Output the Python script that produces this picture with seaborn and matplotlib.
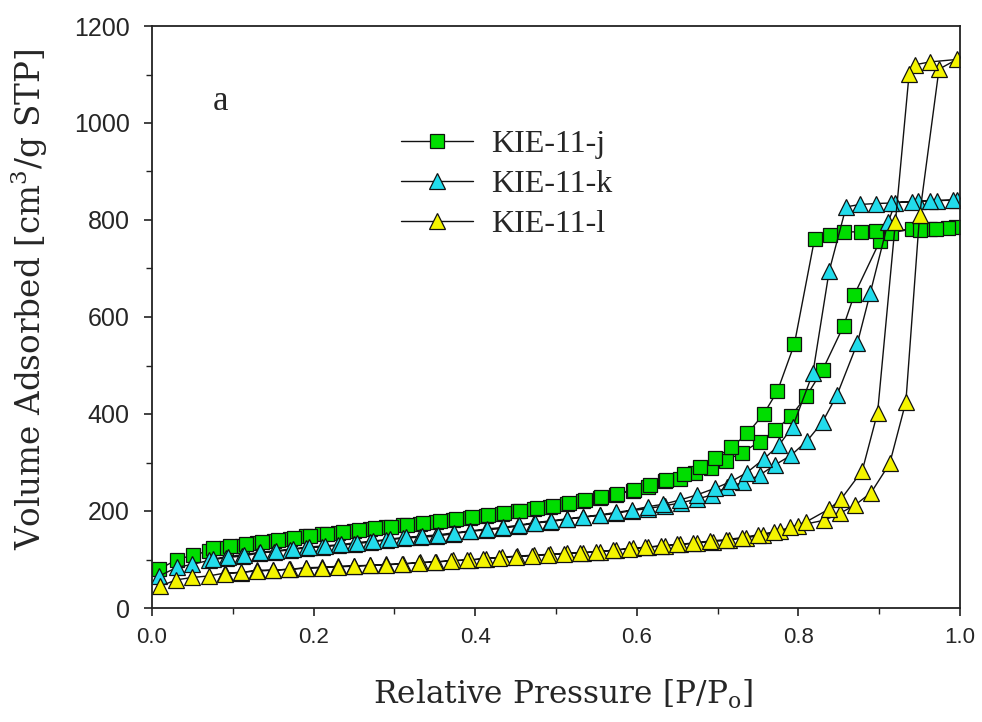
import numpy as np
import pandas as pd
import seaborn as sns
import matplotlib
matplotlib.use("Agg")
import matplotlib.pyplot as plt
from matplotlib.ticker import MultipleLocator

# ---------------- data ----------------
series_names = ["KIE-11-j", "KIE-11-k", "KIE-11-l"]

# KIE-11-j : adsorption then desorption branch
j_ads_x = [0.009, 0.031, 0.051, 0.071, 0.092, 0.111, 0.130, 0.151, 0.171, 0.191, 0.210, 0.230, 0.250,
           0.270, 0.290, 0.311, 0.332, 0.352, 0.372, 0.394, 0.413, 0.433, 0.453, 0.473, 0.493, 0.513,
           0.533, 0.554, 0.574, 0.595, 0.614, 0.635, 0.653, 0.672, 0.692, 0.710, 0.730, 0.752, 0.771,
           0.791, 0.810, 0.830, 0.856, 0.869, 0.901, 0.915, 0.940, 0.963, 0.995]
j_ads_y = [80, 100, 109, 118, 124, 128, 135, 138, 142, 148, 152, 155, 159,
           162, 166, 171, 173, 178, 181, 186, 190, 193, 199, 205, 209, 214,
           221, 227, 234, 242, 250, 261, 267, 278, 289, 304, 320, 343, 366,
           396, 437, 491, 582, 645, 757, 774, 781, 781, 785]
j_des_x = [0.985, 0.970, 0.950, 0.896, 0.877, 0.856, 0.839, 0.820, 0.795, 0.774, 0.757, 0.737, 0.717,
           0.697, 0.678, 0.658, 0.636, 0.616, 0.596, 0.576, 0.556, 0.536, 0.516, 0.496, 0.476, 0.456,
           0.436, 0.416, 0.396, 0.376, 0.356, 0.336, 0.316, 0.296, 0.276, 0.256, 0.236, 0.216, 0.196,
           0.176, 0.156, 0.136, 0.116, 0.096, 0.076]
j_des_y = [783, 781, 780, 778, 776, 775, 770, 761, 544, 447, 400, 360, 331,
           309, 291, 276, 264, 254, 244, 236, 229, 222, 216, 211, 206, 201,
           195, 191, 187, 183, 179, 175, 172, 168, 164, 160, 157, 153, 149,
           145, 141, 137, 131, 128, 123]

# KIE-11-k
k_ads_x = [0.009, 0.031, 0.050, 0.070, 0.092, 0.112, 0.132, 0.151, 0.171, 0.191, 0.211, 0.230, 0.250,
           0.270, 0.290, 0.311, 0.332, 0.352, 0.372, 0.394, 0.413, 0.433, 0.453, 0.473, 0.493, 0.513,
           0.533, 0.554, 0.574, 0.594, 0.614, 0.635, 0.655, 0.675, 0.693, 0.712, 0.732, 0.752, 0.771,
           0.791, 0.811, 0.830, 0.848, 0.873, 0.889, 0.911, 0.920, 0.948, 0.972, 0.996]
k_ads_y = [66, 84, 90, 98, 104, 107, 113, 116, 120, 124, 126, 129, 132,
           136, 140, 144, 146, 148, 153, 158, 161, 164, 169, 175, 178, 183,
           187, 191, 195, 201, 205, 211, 217, 225, 233, 250, 259, 274, 295,
           315, 345, 384, 440, 546, 650, 795, 836, 839, 840, 841]
k_des_x = [0.991, 0.963, 0.940, 0.915, 0.896, 0.876, 0.859, 0.838, 0.818, 0.793, 0.776, 0.757, 0.736,
           0.717, 0.697, 0.674, 0.654, 0.633, 0.614, 0.594, 0.574, 0.554, 0.534, 0.514, 0.494, 0.474,
           0.454, 0.434, 0.414, 0.394, 0.374, 0.354, 0.334, 0.314, 0.294, 0.274, 0.254, 0.234, 0.214,
           0.194, 0.174, 0.154, 0.134, 0.114, 0.094, 0.075]
k_des_y = [841, 840, 838, 835, 834, 832, 827, 694, 485, 374, 336, 307, 279,
           261, 247, 233, 223, 214, 209, 202, 197, 192, 188, 184, 180, 176,
           171, 166, 163, 159, 155, 151, 148, 146, 142, 138, 135, 131, 128,
           126, 122, 118, 115, 110, 106, 101]

# KIE-11-l
l_ads_x = [0.010, 0.030, 0.050, 0.070, 0.090, 0.110, 0.130, 0.150, 0.171, 0.190, 0.210, 0.230, 0.250,
           0.270, 0.290, 0.311, 0.332, 0.352, 0.372, 0.393, 0.413, 0.433, 0.452, 0.473, 0.493, 0.513,
           0.533, 0.554, 0.574, 0.595, 0.614, 0.635, 0.653, 0.674, 0.694, 0.714, 0.735, 0.756, 0.777,
           0.800, 0.832, 0.851, 0.870, 0.890, 0.913, 0.933, 0.950, 0.974, 0.996]
l_ads_y = [45, 58, 63, 66, 72, 73, 78, 78, 80, 83, 84, 86, 87,
           88, 90, 91, 94, 95, 98, 99, 102, 105, 107, 109, 111, 113,
           114, 116, 120, 123, 126, 128, 131, 134, 137, 140, 145, 150, 158,
           170, 181, 195, 212, 238, 298, 425, 810, 1111, 1131]
l_des_x = [0.963, 0.944, 0.937, 0.920, 0.898, 0.879, 0.853, 0.838, 0.810, 0.790, 0.770, 0.750, 0.730,
           0.710, 0.690, 0.670, 0.650, 0.630, 0.610, 0.590, 0.570, 0.550, 0.530, 0.510, 0.490, 0.470,
           0.450, 0.430, 0.410, 0.390, 0.370, 0.350, 0.330, 0.310, 0.290, 0.270, 0.250, 0.230, 0.210,
           0.190, 0.170, 0.150, 0.130, 0.110, 0.090]
l_des_y = [1126, 1120, 1101, 795, 403, 283, 225, 204, 178, 166, 157, 151, 145,
           141, 138, 134, 131, 128, 125, 122, 119, 116, 114, 112, 110, 108,
           106, 104, 101, 99, 97, 95, 93, 91, 89, 88, 86, 85, 83,
           82, 80, 78, 76, 74, 71]

x_ticks = [0.0, 0.2, 0.4, 0.6, 0.8, 1.0]
x_tick_labels = ["0.0", "0.2", "0.4", "0.6", "0.8", "1.0"]
y_ticks = [0, 200, 400, 600, 800, 1000, 1200]
y_tick_labels = ["0", "200", "400", "600", "800", "1000", "1200"]

# ---------------- build table ----------------
frames = []
for name, ax_, ay_, dx_, dy_ in [
    ("KIE-11-j", j_ads_x, j_ads_y, j_des_x, j_des_y),
    ("KIE-11-k", k_ads_x, k_ads_y, k_des_x, k_des_y),
    ("KIE-11-l", l_ads_x, l_ads_y, l_des_x, l_des_y),
]:
    xs = list(ax_) + list(dx_)
    ys = list(ay_) + list(dy_)
    frames.append(pd.DataFrame({"P": xs, "V": ys, "series": name, "order": range(len(xs))}))
df = pd.concat(frames, ignore_index=True)

# ---------------- plot ----------------
sns.set_style("white")
fig = plt.figure(figsize=(9.82, 7.22), dpi=100)
ax = fig.add_axes([152 / 982, 1 - 608 / 722, (960 - 152) / 982, (608 - 26) / 722])

styles = {
    "KIE-11-j": dict(marker="s", face="#00dd00", ms=10.5),
    "KIE-11-k": dict(marker="^", face="#22dcec", ms=11.5),
    "KIE-11-l": dict(marker="^", face="#f4f400", ms=11.5),
}

for name in series_names:
    st = styles[name]
    sub = df[df["series"] == name]
    sns.lineplot(data=sub, x="P", y="V", sort=False, estimator=None, ax=ax,
                 color="#111111", linewidth=1.0, marker=st["marker"], markersize=st["ms"],
                 markerfacecolor=st["face"], markeredgecolor="#111111", markeredgewidth=0.9,
                 label=name)

ax.set_xlim(0.0, 1.0)
ax.set_ylim(0, 1200)
ax.set_xticks(x_ticks)
ax.set_xticklabels(x_tick_labels)
ax.set_yticks(y_ticks)
ax.set_yticklabels(y_tick_labels)
ax.xaxis.set_minor_locator(MultipleLocator(0.1))
ax.yaxis.set_minor_locator(MultipleLocator(100))
ax.tick_params(axis="both", which="major", direction="out", length=6, width=1.2,
               color="#222222", bottom=True, left=True, top=False, right=False)
ax.tick_params(axis="both", which="minor", direction="out", length=4, width=1.0,
               color="#222222", bottom=True, left=True, top=False, right=False)
ax.tick_params(axis="x", labelsize=16, pad=8)
ax.tick_params(axis="y", labelsize=18, pad=10)
for lab in ax.get_xticklabels() + ax.get_yticklabels():
    lab.set_fontfamily("Liberation Sans")

for sp in ax.spines.values():
    sp.set_color("#222222")
    sp.set_linewidth(1.3)

serif = "Liberation Serif"
label_font = "DejaVu Serif"
ax.set_xlabel(r"Relative Pressure [P/P$_\mathregular{o}$]", fontfamily=label_font, fontsize=22.5)
ax.set_ylabel(r"Volume Adsorbed [cm$^\mathregular{3}$/g STP]", fontfamily=label_font, fontsize=23.5)
ax.xaxis.set_label_coords(0.508, -0.12)
ax.yaxis.set_label_coords(-0.126, 0.53)

ax.text(0.085, 1045, "a", fontfamily=serif, fontsize=25, ha="center", va="center")

leg = ax.legend(loc="upper left", bbox_to_anchor=(0.288, 0.849), frameon=False,
                prop={"family": serif, "size": 23}, handlelength=2.26, handletextpad=0.56,
                labelspacing=0.33, borderpad=0.0)

fig.savefig("out.png", dpi=100)
